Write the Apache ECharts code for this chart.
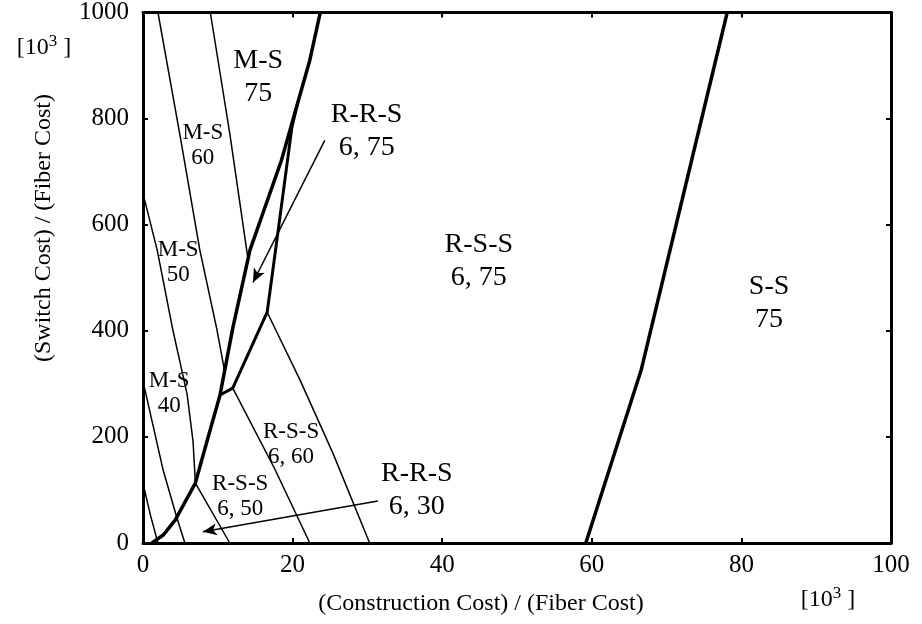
<!DOCTYPE html>
<html>
<head>
<meta charset="utf-8">
<title>Cost regions</title>
<script src="https://cdn.jsdelivr.net/npm/echarts@6/dist/echarts.min.js"></script>
<style>
  html, body { margin: 0; padding: 0; background: #fff; }
  #chart { width: 922px; height: 624px; }
</style>
</head>
<body>
<div id="chart"></div>
<script>
// x: (construction cost)/(fiber cost) [10^3], y: (switch cost)/(fiber cost) [10^3]
var xTicks = [0, 20, 40, 60, 80, 100];
var yTicks = [0, 200, 400, 600, 800, 1000];

// thick boundaries
var ssBoundary = [[59.2, 0], [66.6, 326], [78.1, 1000]];
var thickA = [[1.2, 0], [2.7, 15], [4.3, 43], [7.0, 113], [8.6, 194], [10.3, 279],
    [12.0, 405], [14.3, 552], [18.5, 721], [22.3, 910], [23.7, 1000]];
var thickB = [[10.3, 279], [12.0, 292], [16.6, 435], [17.9, 571], [19.9, 783], [20.6, 826]];

// thin boundaries
var ms75to60 = [[9.0, 1000], [11.6, 772], [14.0, 539]];
var ms60to50 = [[2.0, 1000], [4.9, 772], [7.6, 552], [9.9, 401], [10.9, 325]];
var ms50to40 = [[0, 659], [1.9, 552], [4.0, 401], [5.9, 280], [6.7, 190], [7.0, 113]];
var ms40Low = [[0, 305], [2.7, 137], [4.5, 49], [5.6, 0]];
var msLowest = [[0, 113], [1.0, 52], [2.0, 0]];
var rss60to50 = [[12.0, 292], [17.6, 140], [22.3, 0]];
var rss75to60 = [[16.6, 435], [21.0, 307], [25.4, 169], [30.3, 0]];
var rss50to30 = [[7.0, 113], [11.6, 0]];

// arrows (from label to region)
var arrowRRS75 = [[24.3, 759], [14.7, 491]];
var arrowRRS30 = [[31.4, 79], [8.0, 21]];

// region labels
var bigLabels = [
    ['M-S\n75', 15.4, 878],
    ['R-R-S\n6, 75', 29.9, 776],
    ['R-S-S\n6, 75', 44.9, 531],
    ['S-S\n75', 83.7, 452],
    ['R-R-S\n6, 30', 36.6, 100]
];
var smallLabels = [
    ['M-S\n60', 8.0, 750],
    ['M-S\n50', 4.7, 529],
    ['M-S\n40', 3.5, 281],
    ['R-S-S\n6, 60', 19.8, 185],
    ['R-S-S\n6, 50', 13.0, 87]
];

var serif = "'Liberation Serif', 'Times New Roman', serif";

function boundary(data, width) {
    return {
        type: 'line',
        data: data,
        showSymbol: false,
        symbol: 'none',
        silent: true,
        lineStyle: { color: '#000', width: width },
        z: 3
    };
}

function arrow(pair) {
    return {
        type: 'line',
        data: [],
        silent: true,
        markLine: {
            silent: true,
            symbol: ['none', 'arrow'],
            symbolSize: [9, 14],
            label: { show: false },
            lineStyle: { color: '#000', width: 1.5, type: 'solid' },
            data: [[{ coord: pair[0] }, { coord: pair[1] }]]
        }
    };
}

function labelSeries(list, size, lh) {
    return {
        type: 'scatter',
        symbolSize: 0,
        silent: true,
        itemStyle: { color: '#000', opacity: 1 },
        data: list.map(function (l) { return { name: l[0], value: [l[1], l[2]] }; }),
        label: {
            show: true,
            position: 'inside',
            formatter: '{b}',
            color: '#000',
            opacity: 1,
            textBorderWidth: 0,
            fontFamily: serif,
            fontSize: size,
            lineHeight: lh,
            align: 'center',
            verticalAlign: 'middle'
        },
        z: 5
    };
}

function xAxisOf(pos, showLabel) {
    return {
        type: 'value', position: pos, min: xTicks[0], max: xTicks[xTicks.length - 1], interval: 20,
        axisLine: { show: true, onZero: false, lineStyle: { color: '#000', width: 3 } },
        axisTick: { show: true, inside: true, length: 5, lineStyle: { color: '#000', width: 2 } },
        axisLabel: { show: showLabel, color: '#000', fontFamily: serif, fontSize: 25, margin: 10 },
        splitLine: { show: false }
    };
}

function yAxisOf(pos, showLabel) {
    return {
        type: 'value', position: pos, min: yTicks[0], max: yTicks[yTicks.length - 1], interval: 200,
        axisLine: { show: true, onZero: false, lineStyle: { color: '#000', width: 3 } },
        axisTick: { show: true, inside: true, length: 5, lineStyle: { color: '#000', width: 2 } },
        axisLabel: {
            show: showLabel, color: '#000', fontFamily: serif, fontSize: 25, margin: 14,
            formatter: function (v) { return String(v); }
        },
        splitLine: { show: false }
    };
}

var unitRich = {
    n: { fontFamily: serif, fontSize: 24, color: '#000' },
    s: { fontFamily: serif, fontSize: 17, color: '#000', padding: [0, 0, 12, 0] }
};

var chart = echarts.init(document.getElementById('chart'));
var option = {
    animation: false,
    backgroundColor: '#fff',
    grid: { left: 143, right: 31, top: 12, bottom: 81, containLabel: false },
    xAxis: [xAxisOf('bottom', true), xAxisOf('top', false)],
    yAxis: [yAxisOf('left', true), yAxisOf('right', false)],
    graphic: [
        {
            type: 'text', x: 481, y: 604,
            style: { text: '(Construction Cost) / (Fiber Cost)', font: '24px ' + serif, fill: '#000', align: 'center', verticalAlign: 'middle' }
        },
        {
            type: 'text', x: 828, y: 600,
            style: { text: '{n|[10}{s|3}{n| ]}', rich: unitRich, align: 'center', verticalAlign: 'middle' }
        },
        {
            type: 'text', x: 44, y: 48,
            style: { text: '{n|[10}{s|3}{n| ]}', rich: unitRich, align: 'center', verticalAlign: 'middle' }
        },
        {
            type: 'text', x: 44, y: 228, rotation: Math.PI / 2,
            style: { text: '(Switch Cost) / (Fiber Cost)', font: '24px ' + serif, fill: '#000', align: 'center', verticalAlign: 'middle' }
        }
    ],
    series: [
        boundary(ssBoundary, 3.5),
        boundary(thickA, 3.5),
        boundary(thickB, 3),
        boundary(ms75to60, 1.5),
        boundary(ms60to50, 1.5),
        boundary(ms50to40, 1.5),
        boundary(ms40Low, 1.5),
        boundary(msLowest, 1.5),
        boundary(rss60to50, 1.5),
        boundary(rss75to60, 1.5),
        boundary(rss50to30, 1.5),
        arrow(arrowRRS75),
        arrow(arrowRRS30),
        labelSeries(bigLabels, 28, 33),
        labelSeries(smallLabels, 23, 25)
    ]
};
chart.setOption(option);
</script>
</body>
</html>
